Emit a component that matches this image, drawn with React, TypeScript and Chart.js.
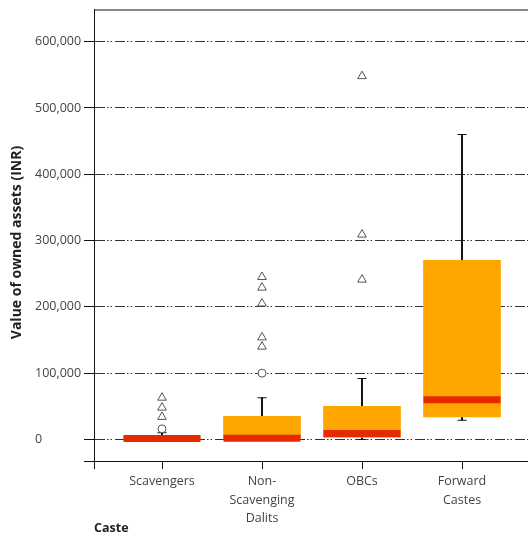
import { useEffect, useRef } from 'react';
import { Chart, registerables } from 'chart.js';

Chart.register(...registerables);

// Castes along the horizontal axis (multi-line labels as arrays)
const categories: (string | string[])[] = [
  'Scavengers',
  ['Non-', 'Scavenging', 'Dalits'],
  'OBCs',
  ['Forward', 'Castes'],
];
const positions = [1, 2, 3, 4];

// Box-plot summaries of owned asset value (INR)
const whiskerLow = [0, 0, 0, 29000];
const quartile1 = [0, 0, 3000, 34000];
const medians = [1500, 1700, 9000, 60000];
const quartile3 = [3000, 35000, 50000, 270000];
const whiskerHigh = [10000, 63000, 92000, 460000];

// Outliers: circles (mild) and triangles (extreme)
const mildOutliers: number[][] = [[16000], [100000], [], []];
const extremeOutliers: number[][] = [
  [34000, 48000, 63000],
  [140000, 154000, 205000, 229000, 245000],
  [241000, 309000, 548000],
  [],
];

const yTickValues = [0, 100000, 200000, 300000, 400000, 500000, 600000];
const yMin = -32500;
const yMax = 648500;
const xMin = 0.32;
const xMax = 4.78;

// The plot runs past the visible frame on the right
const CANVAS_W = 540;
const VIEW_W = 528;
const VIEW_H = 536;

const ORANGE = '#ffa500';
const RED = '#e62a00';
const INK = '#111111';
const FONT = "'Open Sans', sans-serif";

// Closes the plot frame along its top edge
const topFrame = {
  id: 'topFrame',
  beforeDatasetsDraw(chart: any) {
    const { ctx, chartArea } = chart;
    ctx.save();
    ctx.strokeStyle = INK;
    ctx.lineWidth = 1;
    ctx.beginPath();
    ctx.moveTo(chartArea.left, chartArea.top + 0.5);
    ctx.lineTo(chartArea.right, chartArea.top + 0.5);
    ctx.stroke();
    ctx.restore();
  },
};

export default function App() {
  const canvasRef = useRef<HTMLCanvasElement | null>(null);

  useEffect(() => {
    const canvas = canvasRef.current;
    if (!canvas) return;

    const flatten = (groups: number[][]) =>
      groups.flatMap((vals, i) => vals.map((y) => ({ x: positions[i], y })));

    const chart = new Chart(canvas, {
      type: 'bar',
      plugins: [topFrame],
      data: {
        datasets: [
          {
            type: 'bar',
            label: 'whiskers',
            data: positions.map((x, i) => ({ x, y: [whiskerLow[i], whiskerHigh[i]] })) as any,
            backgroundColor: INK,
            barThickness: 1.3,
            grouped: false,
            order: 4,
          } as any,
          {
            type: 'scatter',
            label: 'caps',
            data: positions.flatMap((x, i) => [
              { x, y: whiskerLow[i] },
              { x, y: whiskerHigh[i] },
            ]),
            pointStyle: 'line',
            pointRadius: 4.5,
            borderColor: INK,
            borderWidth: 1.1,
            order: 3,
          } as any,
          {
            type: 'bar',
            label: 'boxes',
            data: positions.map((x, i) => ({ x, y: [quartile1[i], quartile3[i]] })) as any,
            backgroundColor: ORANGE,
            barThickness: 77,
            grouped: false,
            order: 2,
          } as any,
          {
            type: 'scatter',
            label: 'medians',
            data: positions.map((x, i) => ({ x, y: medians[i] })),
            pointStyle: 'line',
            pointRadius: 38.5,
            borderColor: RED,
            borderWidth: 7,
            order: 1,
          } as any,
          {
            type: 'scatter',
            label: 'mild',
            data: flatten(mildOutliers),
            pointStyle: 'circle',
            pointRadius: 4,
            backgroundColor: '#ffffff',
            borderColor: '#555555',
            borderWidth: 1,
            order: 0,
          } as any,
          {
            type: 'scatter',
            label: 'extreme',
            data: flatten(extremeOutliers),
            pointStyle: 'triangle',
            pointRadius: 5,
            backgroundColor: '#ffffff',
            borderColor: '#555555',
            borderWidth: 1,
            order: 0,
          } as any,
        ],
      },
      options: {
        responsive: false,
        animation: false,
        layout: { autoPadding: false, padding: { top: 7, left: 35, right: 0, bottom: 0 } },
        plugins: {
          legend: { display: false },
          tooltip: { enabled: false },
        },
        scales: {
          x: {
            type: 'linear',
            position: 'bottom',
            min: xMin,
            max: xMax,
            bounds: 'data',
            offset: false,
            afterBuildTicks: (scale: any) => {
              scale.ticks = [xMin, ...positions].map((value) => ({ value }));
            },
            afterFit: (scale: any) => {
              scale.height = 75;
            },
            ticks: {
              autoSkip: false,
              maxRotation: 0,
              padding: 3,
              color: '#444444',
              font: { family: FONT, size: 12.5, lineHeight: 1.5 },
              callback: (value: any) => {
                const idx = positions.indexOf(Number(value));
                return idx >= 0 ? (categories[idx] as any) : '';
              },
            },
            grid: {
              offset: false,
              drawOnChartArea: false,
              drawTicks: true,
              tickLength: 8,
              tickColor: INK,
              tickWidth: 1,
            },
            border: { display: true, color: INK, width: 1 },
            title: {
              display: true,
              text: 'Caste',
              align: 'start',
              color: '#222222',
              font: { family: FONT, size: 12.5, weight: 'bold', lineHeight: 1.2 },
              padding: { top: 0, bottom: 0 },
            },
          } as any,
          y: {
            type: 'linear',
            min: yMin,
            max: yMax,
            bounds: 'data',
            afterBuildTicks: (scale: any) => {
              scale.ticks = [yMin, ...yTickValues].map((value) => ({ value }));
            },
            afterFit: (scale: any) => {
              scale.width = 59;
            },
            ticks: {
              crossAlign: 'far',
              padding: 2,
              color: '#444444',
              font: { family: FONT, size: 12.5 },
              callback: (value: any) =>
                Number(value) === yMin ? '' : Number(value).toLocaleString('en-US'),
            },
            grid: {
              color: '#333333',
              lineWidth: 1,
              drawTicks: true,
              tickLength: 10,
              tickColor: INK,
              tickWidth: 1,
            },
            border: { display: true, color: INK, width: 1, dash: [10, 2, 1.5, 2, 1.5, 3] },
            title: {
              display: true,
              text: 'Value of owned assets (INR)    ',
              color: '#222222',
              font: { family: FONT, size: 14, weight: 'bold', lineHeight: 1.2 },
              padding: { top: -26.4, bottom: 0 },
            },
          } as any,
        },
      },
    });

    return () => chart.destroy();
  }, []);

  return (
    <div
      style={{
        position: 'absolute',
        left: 0,
        top: 0,
        width: VIEW_W,
        height: VIEW_H,
        overflow: 'hidden',
      }}
    >
      <canvas ref={canvasRef} width={CANVAS_W} height={VIEW_H} />
    </div>
  );
}
